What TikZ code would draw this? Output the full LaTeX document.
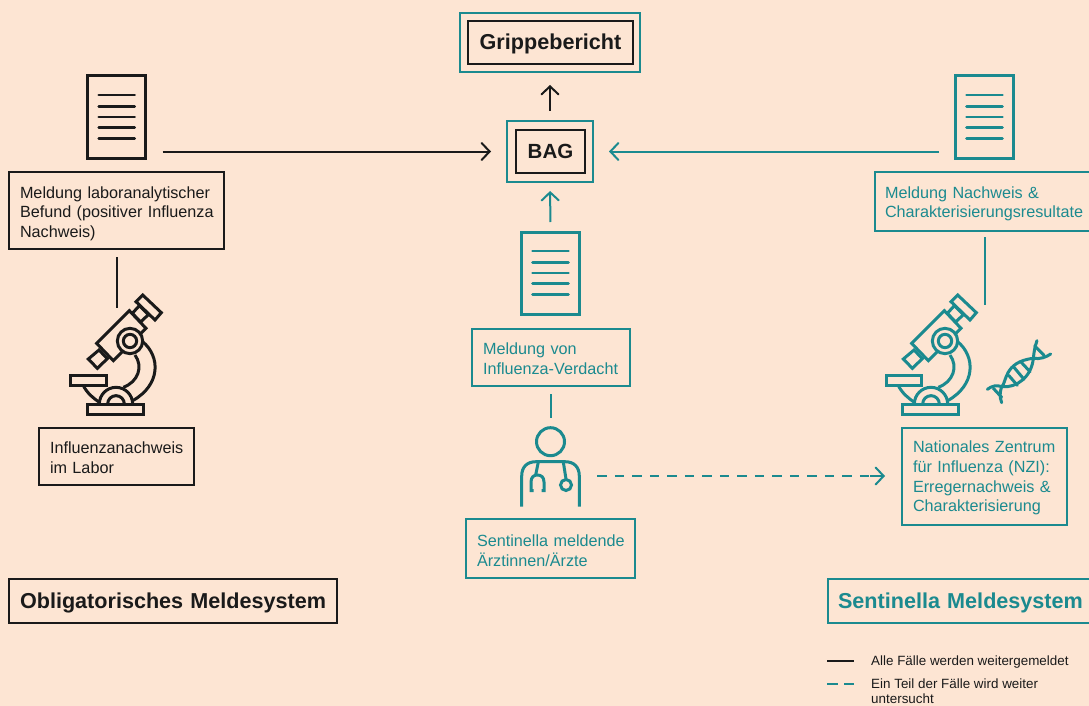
\documentclass[tikz,border=0pt]{standalone}
\usepackage{fontspec}
\setmainfont{Liberation Sans}
\usetikzlibrary{arrows.meta,calc}
\definecolor{bgc}{HTML}{FDE5D3}
\definecolor{teal1}{HTML}{1B8A8F}
\definecolor{ink}{HTML}{1A1A1A}
\newcommand{\lift}[1]{\rule{0pt}{#1pt}}
\newcommand{\oneline}[1]{\mbox{#1}}
\hbadness=10000 \hfuzz=100pt
\tikzset{
  tbox/.style={draw,line width=2pt,inner xsep=11pt,inner ysep=0pt,outer sep=0pt,align=left,anchor=center,font=\fontsize{16.2}{19.6}\selectfont},
  headbox/.style={tbox,text height=14.5pt,text depth=0pt,font=\fontsize{21.6}{24}\selectfont\bfseries},
  titlebox/.style={draw,line width=2pt,inner sep=0pt,outer sep=0pt,text height=15pt,text depth=0pt,font=\fontsize{21.6}{24}\selectfont\bfseries},
  framebox/.style={draw=teal1,line width=2pt,inner sep=0pt,outer sep=0pt},
  docicon/.style={draw,line width=3pt,inner sep=0pt,outer sep=0pt,minimum width=58pt,minimum height=82pt},
  conn/.style={line width=2pt},
  arr/.style={line width=2pt,-{Straight Barb[length=8pt,width=17pt,line cap=round]}},
  dashline/.style={line width=2.2pt,dash pattern=on 9.5pt off 8pt},
  legtext/.style={inner sep=0pt,anchor=west,align=left,text=ink,font=\fontsize{13.4}{15.5}\selectfont},
  icon/.style={line width=3pt,line join=miter}
}
\newcommand{\doclines}[2]{%
  \foreach \dy in {-21.5,-10.5,0,10.7,22}
    \draw[#2,line width=2.6pt,line cap=round] ([xshift=-18pt,yshift=\dy pt]#1.center) -- ([xshift=18pt,yshift=\dy pt]#1.center);}
\newcommand{\microicon}[2]{%
  \begin{scope}[shift={(#2,260)},scale=1/3,#1,icon]
    \draw (428,245) .. controls (482,290) and (482,375) .. (398,422);
    \draw (405,285) .. controls (430,320) and (415,365) .. (370,382);
    \draw[fill=bgc] (265,297) -- (297,270) -- (322,296) -- (292,325) -- cycle;
    \draw[fill=bgc] (397,160) -- (418,137) -- (445,164) -- (422,186) -- cycle;
    \draw[fill=bgc] (428,105) -- (484,158) -- (465,180) -- (408,125) -- cycle;
    \draw[fill=bgc] (388,152) -- (438,205) -- (340,302) -- (290,250) -- cycle;
    \draw[fill=bgc] (390,243) circle[radius=38];
    \draw (390,243) circle[radius=20];
    \draw (250,377) .. controls (262,400) and (280,415) .. (300,428);
    \draw[fill=bgc] (213,345) rectangle (320,377);
    \draw (298,432) arc[start angle=180,end angle=360,radius=50];
    \draw (323,432) arc[start angle=180,end angle=360,radius=25];
    \draw[fill=bgc] (263,432) rectangle (430,463);
  \end{scope}}
\begin{document}
\begin{tikzpicture}[x=1pt,y=-1pt]
\fill[bgc] (0,0) rectangle (1089,706);
\useasboundingbox (0,0) rectangle (1089,706);
\clip (0,0) rectangle (1089,706);

% top boxes
\node[framebox,minimum width=180pt,minimum height=59pt] (gripO) at (550,42.5) {};
\node[titlebox,draw=ink,text=ink,minimum width=165pt,minimum height=43pt] (gripI) at (550.5,42.5) {Grippebericht};
\node[framebox,minimum width=86pt,minimum height=61pt] (bagO) at (550,151.5) {};
\node[titlebox,draw=ink,text=ink,text height=14pt,font=\fontsize{20.5}{24}\selectfont\bfseries,minimum width=69pt,minimum height=43pt] (bagI) at (550.5,151.5) {BAG};

% document icons
\node[docicon,draw=ink] (docL) at (116.7,117) {};
\doclines{docL}{ink}
\node[docicon,draw=teal1] (docM) at (550.5,273) {};
\doclines{docM}{teal1}
\node[docicon,draw=teal1] (docR) at (984.5,117) {};
\doclines{docR}{teal1}

% text boxes
\node[tbox,draw=ink,text=ink,text width=193pt,minimum height=77pt] (labB) at (116.5,210.5) {\oneline{\lift{18}Meldung laboranalytischer}\\\oneline{Befund (positiver Influenza}\\\oneline{Nachweis)}};
\node[tbox,draw=ink,text=ink,text width=133pt,minimum height=57pt] (inflB) at (116.5,456.5) {\oneline{\lift{14}Influenzanachweis}\\\oneline{im Labor}};
\node[tbox,draw=teal1,text=teal1,inner xsep=10pt,text width=200pt,minimum height=59pt] (resB) at (985,201.5) {\oneline{\lift{16}Meldung Nachweis \&}\\\oneline{Charakterisierungsresultate}};
\node[tbox,draw=teal1,text=teal1,text width=136pt,minimum height=57pt] (verdB) at (551,357.5) {\oneline{\lift{14}Meldung von}\\\oneline{Influenza-Verdacht}};
\node[tbox,draw=teal1,text=teal1,text width=147pt,minimum height=59pt] (sentB) at (550.5,548.5) {\oneline{\lift{16}Sentinella meldende}\\\oneline{Ärztinnen/Ärzte}};
\node[tbox,draw=teal1,text=teal1,text width=143pt,minimum height=97pt] (nziB) at (984.5,476.5) {\oneline{\lift{15}Nationales Zentrum}\\\oneline{für Influenza (NZI):}\\\oneline{Erregernachweis \&}\\\oneline{Charakterisierung}};
\node[headbox,draw=ink,text=ink,text width=306pt,minimum height=44pt] (oblB) at (173,601) {\oneline{Obligatorisches Meldesystem}};
\node[headbox,draw=teal1,text=teal1,inner xsep=10pt,text width=250pt,minimum height=44pt] (senB) at (963,601) {\oneline{Sentinella Meldesystem}};

% icons
\microicon{draw=ink}{0}
\microicon{draw=teal1}{815}
\coordinate (microL) at (116.5,308);
\coordinate (microR) at (984.5,305);
\coordinate (doc) at (550.5,441.7);

% doctor
\begin{scope}[draw=teal1,icon]
  \draw (doc) circle[radius=14];
  \draw (521.7,506.7) -- (521.7,476) .. controls (521.7,467) and (527,461.7) .. (536,461.7) -- (565,461.7) .. controls (574,461.7) and (579.3,467) .. (579.3,476) -- (579.3,506.7);
  \draw (538.3,462) -- (535.7,475);
  \draw (533.5,490.5) -- (531,490.5) -- (531,482) .. controls (531,477) and (534,475) .. (537.3,475) .. controls (541,475) and (544,477) .. (544,482) -- (544,490.5) -- (541.5,490.5);
  \draw (563.3,462) -- (566,479);
  \draw (566,485) circle[radius=5.5];
\end{scope}

% dna
\begin{scope}[shift={(860,280)},scale=1/3,draw=teal1,line width=3pt,line cap=round]
  \draw (382,328) .. controls (395,318) and (410,314) .. (425,320) .. controls (470,325) and (515,290) .. (520,235) .. controls (522,215) and (525,198) .. (531,182);
  \draw (425,368) .. controls (418,350) and (420,335) .. (425,320) .. controls (440,310) and (430,245) .. (520,235) .. controls (540,238) and (558,232) .. (572,222);
  \draw (400,325) -- (425,352);
  \draw (524,198) -- (552,226);
  \draw (446,286) -- (472,316);
  \draw (462,262) -- (492,298);
  \draw (482,245) -- (510,275);
\end{scope}

% connectors
\draw[arr,draw=ink,shorten <=17pt,shorten >=16pt] (docL.east |- bagI) -- (bagO.west);
\draw[arr,draw=teal1,shorten <=16.5pt,shorten >=16pt] (docR.west |- bagI) -- (bagO.east);
\draw[arr,draw=ink,shorten <=10pt,shorten >=13pt] (bagO.north) -- (gripO.south);
\draw[arr,draw=teal1,shorten <=10pt,shorten >=9pt] (docM.north) -- (bagO.south);
\draw[conn,draw=ink,shorten <=8pt] (labB.south) -- (microL);
\draw[conn,draw=teal1,shorten <=6pt] (resB.south) ++(-0.5,0) -- (microR);
\draw[conn,draw=teal1,shorten <=8pt,shorten >=10pt] (verdB.south) ++(-0.5,0) -- ($(doc)+(0,-14)$);
\coordinate (docE) at (579.3,476);
\draw[dashline,draw=teal1,shorten <=18pt,shorten >=20pt] (docE) -- (nziB.west |- docE);
\draw[arr,draw=teal1,shorten >=17pt] (870,476) -- (nziB.west |- docE);

% legend
\coordinate (lg1) at (827,661);
\coordinate (lg1e) at (854,661);
\coordinate (lg2) at (827,684);
\coordinate (lg2e) at (854,684);
\draw[conn,draw=ink] (lg1) -- (lg1e);
\draw[line width=2pt,draw=teal1,dash pattern=on 11pt off 6pt] (lg2) -- (lg2e);
\node[legtext] (lt1) at (871,662.5) {Alle Fälle werden weitergemeldet};
\node[legtext,anchor=north west] (lt2) at (871,678.5) {Ein Teil der Fälle wird weiter\\untersucht};
\end{tikzpicture}
\end{document}
